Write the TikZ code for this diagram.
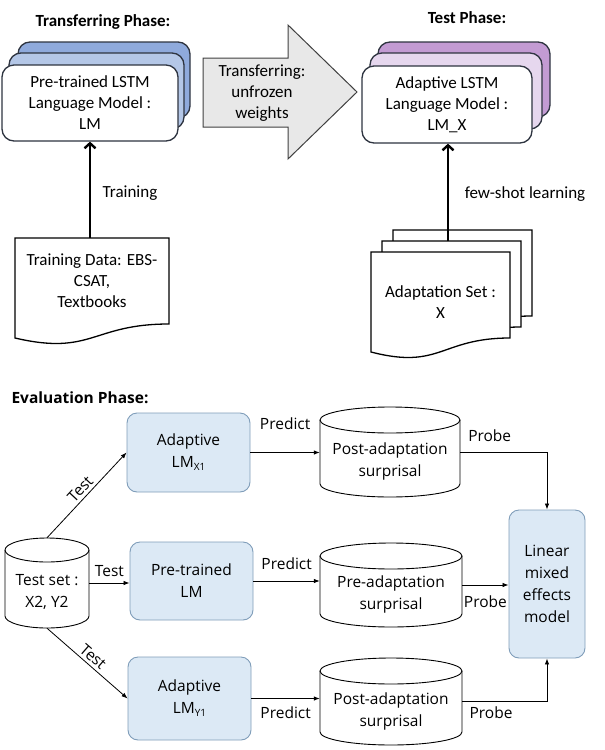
\documentclass[tikz,border=0pt]{standalone}
\usepackage{fontspec}
\setmainfont{Carlito}
\newfontfamily\evalfont{Open Sans}
\usetikzlibrary{arrows.meta}
\definecolor{blueback}{HTML}{8FAADC}
\definecolor{bluemid}{HTML}{B4C7E7}
\definecolor{purpback}{HTML}{C39BD3}
\definecolor{purpmid}{HTML}{E6D7EE}
\definecolor{boxedge}{HTML}{2E3440}
\definecolor{evalfill}{HTML}{DCE9F5}
\definecolor{evaledge}{HTML}{7F9DB9}
\definecolor{arrowfill}{HTML}{E8E8E8}
\newcommand\lmsub[1]{\raisebox{-0.35ex}{\fontsize{10}{10}\selectfont #1}}
\newcommand\cylnode[7]{%
  \pgfmathsetmacro\cylXL{#2-#4/2}%
  \pgfmathsetmacro\cylXR{#2+#4/2}%
  \pgfmathsetmacro\cylYT{#3-#5/2+#6}%
  \pgfmathsetmacro\cylYB{#3+#5/2-#6}%
  \pgfmathsetmacro\cylRX{#4/2}%
  \pgfmathsetmacro\cylTY{#3+0.75*#6}%
  \draw[cylline] (\cylXL,\cylYT) -- (\cylXL,\cylYB) arc[start angle=180,end angle=0,x radius=\cylRX,y radius=#6] -- (\cylXR,\cylYT);
  \draw[cylline] (#2,\cylYT) ellipse[x radius=\cylRX,y radius=#6];
  \node[cylbody,minimum width=#4,minimum height=#5] (#1) at (#2,#3) {};
  \node[evaltext] (#1-t) at (#2,\cylTY) {#7};
}
\newcommand\docshape[3]{%
  \begin{scope}[shift={(#1,#2)}]
    \filldraw[docline] (0,0) -- (#3,0) -- (#3,86) .. controls ({#3/2},86) and ({#3/2},118) .. (0,100) -- cycle;
  \end{scope}}
\begin{document}
\begin{tikzpicture}[x=1pt,y=-1pt,
  stackback/.style={draw=boxedge,line width=1.3pt,rounded corners=12pt},
  frontbox/.style={draw=boxedge,line width=1.3pt,rounded corners=12pt,fill=white,align=center,font=\fontsize{17}{21}\selectfont,inner sep=0pt},
  title/.style={font=\bfseries\fontsize{17}{19}\selectfont,inner sep=0pt},
  etitle/.style={font=\evalfont\bfseries\fontsize{15.5}{19}\selectfont,inner sep=0pt},
  toptext/.style={font=\fontsize{17}{21}\selectfont,align=center,inner sep=0pt},
  docline/.style={draw=black,fill=white,line width=1.3pt},
  bigarrow/.style={line width=2.4pt,-{Straight Barb[length=5pt,width=11pt]}},
  evalbox/.style={draw=evaledge,fill=evalfill,line width=0.9pt,rounded corners=10pt,align=center,font=\evalfont\fontsize{15.5}{22}\selectfont,inner sep=0pt},
  evaltext/.style={align=center,font=\evalfont\fontsize{15.5}{22}\selectfont,inner sep=0pt},
  cylline/.style={draw=black,line width=0.9pt},
  cylbody/.style={inner sep=0pt,draw=none},
  evalarrow/.style={line width=0.8pt,-{Latex[length=6pt,width=4.5pt]}},
  elabel/.style={font=\evalfont\fontsize{15.5}{18}\selectfont,inner sep=1pt}]
\useasboundingbox (0,0) rectangle (605,750);

% titles
\node[title] (t1) at (103,22) {Transferring Phase:};
\node[title] (t2) at (467,18) {Test Phase:};
\node[etitle] (t3) at (80,398) {Evaluation Phase:};

% blue stack
\draw[stackback,fill=blueback] (18,42) rectangle (190,118);
\draw[stackback,fill=bluemid] (9,53) rectangle (184,129);
\node[frontbox,minimum width=176,minimum height=76] (ptlm) at (90,103) {Pre-trained LSTM\\Language Model :\\LM};

% big arrow
\draw[line width=1pt,draw=black!75,fill=arrowfill] (203,58) -- (288,58) -- (288,25) -- (357,92) -- (288,159) -- (288,127) -- (203,127) -- cycle;
\node[toptext] (tw) at (262,93) {Transferring:\\unfrozen\\weights};

% purple stack
\draw[stackback,fill=purpback] (378,42) rectangle (550,117);
\draw[stackback,fill=purpmid] (370,53) rectangle (542,129);
\node[frontbox,minimum width=170,minimum height=77] (adlm) at (447,104.5) {Adaptive LSTM\\Language Model :\\LM\_X};

% training data
\docshape{15}{238}{154}
\node[toptext,minimum width=154,minimum height=86] (train) at (92,281) {Training Data: EBS-\\CSAT,\\Textbooks};
\draw[bigarrow] (ptlm.south |- train.north) -- (ptlm.south);
\node[toptext] (trl) at (130,193) {Training};

% adaptation set
\docshape{393}{230}{139}
\docshape{382}{241}{139}
\docshape{371}{252}{139}
\node[toptext] (adset) at (440.5,302.5) {Adaptation Set :\\X};
\coordinate (adtop) at (448,241);
\draw[bigarrow] (adtop) -- (adtop |- adlm.south);
\node[toptext] (fsl) at (525,194) {few-shot learning};

% evaluation
\node[evalbox,minimum width=123,minimum height=79] (axl) at (188.5,452.5) {Adaptive\\LM\lmsub{X1}};
\node[evalbox,minimum width=123,minimum height=78] (ptm) at (191.5,581) {Pre-trained\\LM};
\node[evalbox,minimum width=123,minimum height=83] (ay1) at (189.5,698.5) {Adaptive\\LM\lmsub{Y1}};
\node[evalbox,minimum width=76,minimum height=148] (lmm) at (547,584) {Linear\\mixed\\effects\\model};

\cylnode{ts}{47}{583}{84}{90}{12}{Test set :\\X2, Y2}
\cylnode{ca}{390}{452}{140}{90}{13}{Post-adaptation\\surprisal}
\cylnode{cb}{391}{585}{142}{84}{13}{Pre-adaptation\\surprisal}
\cylnode{cc}{391}{701.5}{142}{87}{13}{Post-adaptation\\surprisal}

\draw[evalarrow] (ts.north) -- node[elabel,above=2pt,sloped] {Test} (axl.west);
\draw[evalarrow] (ts.east) -- node[elabel,above=5pt] {Test} (ts.east -| ptm.west);
\draw[evalarrow] (ts.south) -- node[elabel,above=2pt,sloped] {Test} (ay1.west);

\draw[evalarrow] (axl.east) -- node[elabel,above=21pt] {Predict} (axl.east -| ca.west);
\draw[evalarrow] (ptm.east) -- node[elabel,above=10pt] {Predict} (ptm.east -| cb.west);
\draw[evalarrow] (ay1.east) -- node[elabel,below=7pt] {Predict} (ay1.east -| cc.west);

\draw[evalarrow] (ca.east) -| node[elabel,pos=0.17,above=9pt] {Probe} (lmm.north);
\draw[evalarrow] (cb.east) -- node[elabel,below=9pt] {Probe} (cb.east -| lmm.west);
\draw[evalarrow] (cc.east) -| node[elabel,pos=0.17,below=4pt] {Probe} (lmm.south);
\end{tikzpicture}
\end{document}
